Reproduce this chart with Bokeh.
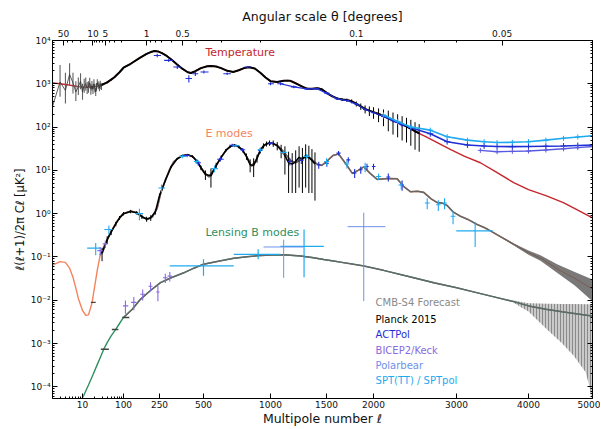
import numpy as np
from bokeh.plotting import figure
from bokeh.models import (Range1d, LinearAxis, LogAxis, FixedTicker,
                          CustomJSTickFormatter, Label)
from bokeh.embed import file_html
from bokeh.resources import INLINE

# ---------------- theory spectra (D_ell, muK^2) ----------------
tt_ell = [2, 3, 4, 5, 6, 8, 10, 13, 16, 20, 25, 30, 40, 50, 60, 80, 100, 120, 150, 180, 200, 220,
          240, 260, 280, 300, 330, 360, 390, 410, 440, 480, 520, 540, 570, 600, 640, 680, 720, 760,
          800, 820, 850, 900, 950, 1000, 1050, 1100, 1130, 1170, 1220, 1280, 1340, 1380, 1420, 1470,
          1530, 1600, 1660, 1720, 1780, 1850, 1920, 2000, 2080, 2150, 2230, 2316, 2450, 2600, 2750,
          2917, 3100, 3300, 3500, 3770, 4000, 4250, 4517, 4750, 5000]
tt_D = [1050, 1000, 960, 930, 900, 860, 840, 830, 840, 860, 900, 950, 1080, 1250, 1420, 1850, 2350,
        2900, 3900, 4900, 5400, 5700, 5600, 5100, 4400, 3700, 2800, 2200, 1850, 1780, 1950, 2300,
        2550, 2580, 2500, 2300, 1990, 1880, 2050, 2300, 2420, 2400, 2250, 1800, 1400, 1150, 1100,
        1180, 1200, 1150, 980, 800, 760, 780, 790, 700, 560, 460, 430, 420, 370, 300, 250, 221, 190,
        160, 132, 111, 80, 58, 42, 30, 21, 15, 9.5, 5.2, 3.6, 2.6, 1.8, 1.2, 0.8]

ee_ell = [2, 3, 4, 5, 6, 7, 8, 10, 12, 14, 17, 20, 23, 27, 33, 40, 50, 60, 70, 85, 100, 120, 140,
          160, 183, 210, 236, 255, 274, 295, 313, 350, 386, 420, 453, 490, 528, 560, 596, 635, 673,
          710, 746, 785, 821, 860, 901, 950, 1000, 1050, 1101, 1156, 1200, 1250, 1300, 1336, 1400,
          1450, 1500, 1560, 1615, 1690, 1757, 1820, 1884, 1960, 2036, 2150, 2245, 2320, 2398, 2480,
          2556, 2650, 2732, 2800, 2866, 2950, 3048, 3150, 3259, 3350, 3436, 3600, 3773, 4000, 4170,
          4419, 4700, 5000]
ee_D = [0.065, 0.078, 0.075, 0.055, 0.034, 0.019, 0.011, 0.0058, 0.0045, 0.0046, 0.0085, 0.022,
        0.05, 0.11, 0.17, 0.25, 0.38, 0.52, 0.67, 0.85, 1.0, 1.15, 1.05, 0.85, 0.73, 0.85, 1.35, 3.0,
        6.0, 11, 16, 21, 23, 21, 16, 10.5, 7.0, 11, 19, 30, 38, 37, 30, 20, 12.5, 17, 30, 40, 43, 38,
        27, 17, 15, 18, 21, 19, 14, 13, 16, 22, 24, 14, 8.5, 10, 12, 8.5, 6.2, 6.5, 6.4, 4.2, 3.2,
        3.3, 3.1, 2.2, 1.8, 1.75, 1.55, 1.1, 0.87, 0.72, 0.56, 0.48, 0.40, 0.28, 0.195, 0.125,
        0.095, 0.053, 0.032, 0.018]

bb_ell = [2, 4, 6, 8, 10.7, 14, 18, 23, 28, 33, 40, 50, 64, 80, 100, 125, 154, 200, 254, 300, 366,
          430, 500, 600, 684, 800, 900, 1010, 1100, 1243, 1350, 1471, 1600, 1750, 1884, 2100, 2434,
          2700, 3000, 3250, 3528, 3770, 4000, 4250, 4500, 4750, 5000]
bb_D = [2.5e-6, 1e-5, 2.2e-5, 3.8e-5, 6.3e-5, 1.1e-4, 1.9e-4, 3.3e-4, 5.1e-4, 7.4e-4, 0.00105,
        0.0015, 0.0021, 0.0029, 0.004, 0.0062, 0.0105, 0.017, 0.0255, 0.033, 0.043, 0.055, 0.068,
        0.082, 0.093, 0.102, 0.108, 0.111, 0.112, 0.105, 0.097, 0.087, 0.078, 0.069, 0.062, 0.049,
        0.033, 0.025, 0.0195, 0.015, 0.0115, 0.0093, 0.0074, 0.0062, 0.0054, 0.0048, 0.0043]

# ---------------- CMB-S4 forecast ----------------
s4_ee_band_ell = [3436, 3600, 3773, 4000, 4170, 4419, 4700, 5000]
s4_ee_band_lo = [0.39, 0.27, 0.185, 0.112, 0.082, 0.043, 0.022, 0.0095]
s4_ee_band_hi = [0.41, 0.29, 0.205, 0.14, 0.11, 0.068, 0.045, 0.030]
s4_bb_band_ell = [3770, 4000, 4268, 4500, 4684, 4880, 4950, 5000]
s4_bb_band_lo = [0.0088, 0.0055, 0.0021, 0.001, 0.00052, 0.00022, 0.0001, 0.00004]
s4_bb_band_hi = [0.0098, 0.0085, 0.0083, 0.0082, 0.0082, 0.0081, 0.0081, 0.0081]
s4_bin_lo = [16, 28, 52, 93]
s4_bin_hi = [21, 44, 75, 116]
s4_bin_D = [0.0089, 0.00074, 0.0021, 0.004]

# ---------------- Planck 2015 ----------------
planck_lowl_ell = list(range(2, 30))
planck_lowl_D = [300, 1100, 700, 1650, 1050, 650, 850, 1150, 650, 900, 1000, 800, 850, 1050, 750,
                 900, 750, 1000, 800, 650, 850, 1050, 950, 900, 800, 1000, 900, 850]
planck_lowl_lo = [80, 500, 350, 900, 600, 400, 550, 750, 430, 620, 700, 580, 620, 790, 560, 690,
                  580, 780, 630, 520, 690, 860, 780, 750, 670, 840, 760, 720]
planck_lowl_hi = [1800, 2700, 1800, 3000, 1800, 1150, 1400, 1750, 1000, 1300, 1400, 1100, 1150,
                  1380, 990, 1160, 960, 1270, 1000, 800, 1040, 1270, 1140, 1070, 950, 1180, 1060, 1000]

planck_tt_ell = [30, 40, 50, 60, 80, 100, 120, 150, 180, 200, 220, 240, 260, 280, 300, 330, 360, 390,
                 410, 440, 480, 520, 540, 570, 600, 640, 680, 720, 760, 800, 850, 900, 950, 1000,
                 1050, 1100, 1150, 1200, 1250, 1300, 1350, 1400, 1450, 1500, 1550, 1600, 1650, 1700,
                 1750, 1800, 1850, 1900, 1950, 2000, 2050, 2100, 2150, 2200, 2250, 2300, 2350, 2400,
                 2450, 2500]
planck_tt_D = [950, 1080, 1250, 1420, 1850, 2350, 2900, 3900, 4900, 5400, 5700, 5600, 5100, 4400,
               3700, 2800, 2200, 1850, 1780, 1950, 2300, 2550, 2580, 2500, 2300, 1990, 1880, 2050,
               2300, 2420, 2250, 1800, 1400, 1150, 1100, 1180, 1180, 1020, 880, 770, 765, 790, 750,
               620, 520, 460, 435, 420, 395, 345, 300, 262, 240, 221, 200, 180, 160, 142, 128, 114,
               104, 92, 80, 72]
planck_tt_err = [60, 60, 60, 60, 60, 60, 60, 60, 60, 60, 60, 60, 55, 50, 45, 40, 35, 30, 30, 30, 30,
                 30, 30, 30, 30, 30, 28, 28, 28, 28, 26, 24, 22, 20, 20, 20, 20, 20, 20, 20, 22, 24,
                 26, 28, 30, 32, 35, 38, 42, 46, 50, 55, 60, 66, 70, 75, 80, 75, 70, 65, 60, 55, 50, 45]

planck_ee_ell = [30, 40, 50, 65, 80, 100, 120, 140, 160, 180, 200, 225, 250, 275, 300, 330, 360, 390,
                 420, 450, 480, 510, 540, 570, 600, 630, 660, 690, 720, 750, 780, 810, 840, 870, 900,
                 930, 960, 990, 1020, 1050, 1080, 1110, 1140, 1170, 1200, 1230, 1260, 1290, 1320,
                 1350, 1380]
planck_ee_D = [0.12, 0.25, 0.38, 0.58, 0.8, 1.0, 1.12, 1.05, 0.85, 0.75, 0.8, 1.1, 2.6, 6.0, 12, 18.5,
               22, 23, 21, 16.5, 11.5, 8.0, 7.5, 13, 20, 29, 36, 38, 35, 29, 21, 13.5, 13, 19, 29, 37,
               41, 43, 42, 37, 29, 22, 15, 14, 16, 20, 18, 22, 20, 17, 14]
planck_ee_err = [0.04, 0.05, 0.06, 0.07, 0.08, 0.09, 0.1, 0.1, 0.1, 0.1, 0.12, 0.15, 0.3, 0.5, 0.7,
                 0.9, 1.0, 1.1, 1.2, 1.3, 1.4, 2.0, 3.5, 2.0, 2.0, 2.2, 2.5, 2.6, 2.8, 3.0, 3.5, 4.5,
                 6.0, 4.0, 4.5, 5.0, 5.5, 6.0, 7.0, 8.0, 10, 14, 12, 11, 13, 16, 15, 18, 17, 14, 12]

# ---------------- ACTPol ----------------
act_tt_ell = [236, 289, 331, 397, 440, 502, 639, 788, 1000, 1075, 1184, 1300, 1400, 1500, 1600, 1700,
              1800, 1900, 2000, 2100, 2200, 2300]
act_tt_D = [4520, 3470, 2440, 1320, 1710, 1870, 1710, 2440, 1000, 1000, 850, 760, 770, 610, 450, 410,
            340, 255, 215, 175, 140, 112]
act_tt_dl = [20, 20, 20, 20, 20, 25, 25, 25, 25, 25, 25, 25, 25, 25, 25, 25, 25, 25, 25, 25, 25, 25]
act_tt_dD = [400, 300, 250, 250, 200, 150, 120, 120, 80, 80, 60, 40, 40, 35, 30, 25, 20, 18, 15, 14,
             12, 10]
act_hi_ell = [2100, 2250, 2400, 2640, 2866, 3134, 3350, 3528, 3750, 4000, 4250, 4520, 4750, 5000]
act_hi_D = [185, 132, 97, 70, 46, 38.6, 36.5, 35.5, 35.3, 35.5, 36, 36.5, 37.5, 38.6]
act_hi2_ell = [3300, 3528, 3750, 4000, 4250, 4520, 4750, 5000]
act_hi2_D = [29, 27, 27.5, 28, 29.5, 31.5, 33.5, 35.5]
act_ee_ell = [386, 460, 596, 673, 750, 900, 1000, 1150, 1250, 1418, 1503, 1615, 1714, 1782, 1850,
              1922, 2000, 2150, 2300]
act_ee_D = [22, 15, 18, 38, 30, 29, 42, 16, 17, 13.4, 14.6, 25, 17.5, 8.7, 10.3, 12.3, 12.3, 7.0, 4.6]
act_ee_dl = [20] * 19
act_ee_dD = [2, 2, 2, 3, 3, 3, 3, 3, 3, 2.5, 2.5, 3, 2.5, 2, 2, 2, 2, 1.5, 1.2]

# ---------------- BICEP2/Keck ----------------
bk_bb_ell = [105, 130, 163, 199, 240, 274, 294]
bk_bb_D = [0.0074, 0.0089, 0.0138, 0.021, 0.0155, 0.033, 0.036]
bk_bb_dl = [8, 9, 10, 10, 10, 10, 10]
bk_bb_dD = [0.0025, 0.003, 0.004, 0.005, 0.006, 0.008, 0.009]
bk_ee_ell = [27, 36]
bk_ee_D = [0.14, 0.2]
bk_ee_dl = [4, 5]
bk_ee_dD = [0.03, 0.04]

# ---------------- Polarbear ----------------
pb_bb_ell = [1100, 1884]
pb_bb_lo = [930, 1707]
pb_bb_hi = [1270, 2120]
pb_bb_D = [0.17, 0.5]
pb_bb_Dlo = [0.033, 0.0095]
pb_bb_Dhi = [0.25, 1.05]

# ---------------- SPT(TT) / SPTpol ----------------
spt_hi_ell = [2100, 2250, 2400, 2640, 2866, 3134, 3350, 3528, 3750, 4000, 4250, 4520, 4750, 5000]
spt_hi_D = [190, 135, 100, 85, 60, 50, 46, 44, 44.5, 46, 50, 55, 59, 63]
spt_ee_ell = [21, 44, 150, 258, 360, 450, 560, 700, 900, 1100, 1300, 1500, 1700, 1900, 2050, 2290,
              2600, 2745, 2830, 2950, 3232]
spt_ee_D = [0.16, 0.43, 1.0, 3.9, 21, 16, 11, 37, 30, 26, 21, 16, 14, 12, 7.2, 4.6, 1.76, 1.6, 1.76,
            0.87, 0.4]
spt_ee_dl = [8, 10, 15, 15, 20, 20, 20, 25, 25, 25, 25, 25, 25, 25, 25, 30, 30, 30, 30, 35, 235]
spt_ee_dD = [0.05, 0.1, 0.3, 0.8, 2, 2, 2, 3, 3, 3, 3, 3, 3, 3, 1.2, 1.0, 0.5, 0.45, 0.5, 0.3, 0.23]
spt_bb_ell = [500, 880, 1275]
spt_bb_lo = [294, 684, 1075]
spt_bb_hi = [684, 1075, 1471]
spt_bb_D = [0.062, 0.115, 0.175]
spt_bb_Dlo = [0.037, 0.088, 0.034]
spt_bb_Dhi = [0.088, 0.15, 0.43]

# ---------------- axes ----------------
bottom_ticks = [10, 100, 250, 500, 1000, 1500, 2000, 3000, 4000, 5000]
bottom_minor = [3, 4, 5, 6, 7, 8, 9, 20, 30, 40, 50, 60, 70, 80, 90]
top_ticks = [50, 10, 5, 1, 0.5, 0.1, 0.05]
top_labels = ["50", "10", "5", "1", "0.5", "0.1", "0.05"]
top_minor = [40, 30, 20, 9, 8, 7, 6, 4, 3, 2, 0.9, 0.8, 0.7, 0.6, 0.4, 0.3, 0.2,
             0.09, 0.08, 0.07, 0.06]

# the original's multipole axis: logarithmic at low ell, stretched at high ell
scale_ell = [2, 10, 100, 250, 500, 1000, 1500, 2000, 3000, 4000, 5000]
scale_pos = [0, 30, 71, 107, 151, 218, 274, 321, 404, 476, 540]


def X(ell):
    return np.interp(np.log10(np.asarray(ell, dtype=float)), np.log10(scale_ell), scale_pos)


def A(v):
    return np.asarray(v, dtype=float)


FONT = "DejaVu Sans"
RED = "#c4262b"
CORAL = "#f3845e"
GREEN = "#2f8f62"
S4 = "#666666"
ACT = "#1f2fd6"
BK = "#8a6ae0"
PB = "#6d92ea"
SPT = "#1eaaf0"

p = figure(width=600, height=428, x_range=Range1d(0, 540), y_range=Range1d(10 ** -4.27, 1e4),
           y_axis_type="log", output_backend="svg", toolbar_location=None,
           min_border_left=52, min_border_right=8, min_border_top=40, min_border_bottom=28)
p.grid.visible = False
p.outline_line_color = "black"
p.background_fill_color = "white"

# bottom axis
xa = p.xaxis[0]
bt = [float(v) for v in X(bottom_ticks)]
xa.ticker = FixedTicker(ticks=bt, minor_ticks=[float(v) for v in X(bottom_minor)])
xa.major_label_overrides = {t: str(l) for t, l in zip(bt, bottom_ticks)}
xa.axis_label = "Multipole number ℓ"

# top axis (angular scale)
tt_top = [float(v) for v in X([180.0 / t for t in top_ticks])]
top = LinearAxis(ticker=FixedTicker(ticks=tt_top,
                                    minor_ticks=[float(v) for v in X([180.0 / t for t in top_minor])]),
                 axis_label="Angular scale θ [degrees]")
top.major_label_overrides = {t: l for t, l in zip(tt_top, top_labels)}
p.add_layout(top, "above")

ya = p.yaxis[0]
yticker = FixedTicker(ticks=[10.0 ** k for k in range(-4, 5)],
                      minor_ticks=[m * 10.0 ** k for k in range(-5, 4) for m in range(2, 10)])
ya.ticker = yticker
ya.formatter = CustomJSTickFormatter(code="""
const sup = {"-":"\u207b","0":"\u2070","1":"\u00b9","2":"\u00b2","3":"\u00b3","4":"\u2074",
             "5":"\u2075","6":"\u2076","7":"\u2077","8":"\u2078","9":"\u2079"};
const e = Math.round(Math.log10(tick));
return "10" + String(e).split("").map(c => sup[c]).join("");
""")
ya.axis_label = "ℓ(ℓ+1)/2π Cℓ [μK²]"

right = LogAxis(ticker=yticker, formatter=CustomJSTickFormatter(code="return ''"))
p.add_layout(right, "right")

for ax in [xa, top, ya, right]:
    ax.major_tick_in = 5
    ax.major_tick_out = 0
    ax.minor_tick_in = 2
    ax.minor_tick_out = 0
    ax.axis_line_color = "black"
    ax.major_tick_line_color = "black"
    ax.minor_tick_line_color = "black"
    ax.major_label_text_font = FONT
    ax.major_label_text_font_size = "9px"
    ax.major_label_text_color = "#111111"
    ax.major_label_standoff = 2
    ax.axis_label_text_font = FONT
    ax.axis_label_text_font_style = "normal"
    ax.axis_label_text_color = "#111111"
    ax.axis_label_standoff = 1
xa.axis_label_text_font_size = "12.5px"
xa.axis_label_standoff = 0
top.axis_label_text_font_size = "12.5px"
top.major_label_standoff = 4
top.axis_label_standoff = 3
ya.axis_label_text_font_size = "11.5px"
right.major_label_standoff = 0

# ---- forecast bands ----
p.varea(x=X(s4_ee_band_ell), y1=A(s4_ee_band_lo), y2=A(s4_ee_band_hi), fill_color="#727272",
        fill_alpha=0.95)
p.varea(x=X(s4_bb_band_ell), y1=A(s4_bb_band_lo), y2=A(s4_bb_band_hi), fill_color="#c4c4c4",
        fill_alpha=0.9, hatch_pattern="|", hatch_color="#7a7a7a", hatch_scale=3, hatch_weight=0.8)

# ---- theory curves ----
p.line(X(tt_ell), A(tt_D), line_color=RED, line_width=1.4)
p.line(X(ee_ell), A(ee_D), line_color=CORAL, line_width=1.4)
p.line(X(bb_ell), A(bb_D), line_color=GREEN, line_width=1.4)

# ---- CMB-S4 forecast lines ----
ee_m = A(ee_ell) >= 27
p.line(X(A(ee_ell)[ee_m]), A(ee_D)[ee_m], line_color=S4, line_width=1.6)
bb_m = A(bb_ell) >= 100
p.line(X(A(bb_ell)[bb_m]), A(bb_D)[bb_m], line_color=S4, line_width=1.5)
p.segment(x0=X(s4_bin_lo), y0=A(s4_bin_D), x1=X(s4_bin_hi), y1=A(s4_bin_D), line_color="#444444",
          line_width=1.4)

# ---- Planck 2015 ----
p.segment(x0=X(planck_lowl_ell), y0=A(planck_lowl_lo), x1=X(planck_lowl_ell), y1=A(planck_lowl_hi),
          line_color="#606060", line_width=1.1)
p.line(X(planck_lowl_ell), A(planck_lowl_D), line_color="#333333", line_width=0.8)
ptx = X(planck_tt_ell)
p.segment(x0=ptx, y0=A(planck_tt_D) - A(planck_tt_err), x1=ptx, y1=A(planck_tt_D) + A(planck_tt_err),
          line_color="black", line_width=1.0)
p.line(ptx, A(planck_tt_D), line_color="black", line_width=2.0)
pex = X(planck_ee_ell)
p.segment(x0=pex, y0=A(planck_ee_D) - A(planck_ee_err), x1=pex, y1=A(planck_ee_D) + A(planck_ee_err),
          line_color="black", line_width=1.0)
p.line(pex, A(planck_ee_D), line_color="black", line_width=1.6)


def crosses(ell, D, ell_lo, ell_hi, D_lo, D_hi, color, width=1.1):
    p.segment(x0=X(ell_lo), y0=A(D), x1=X(ell_hi), y1=A(D), line_color=color, line_width=width)
    p.segment(x0=X(ell), y0=A(D_lo), x1=X(ell), y1=A(D_hi), line_color=color, line_width=width)


# ---- ACTPol ----
crosses(act_tt_ell, act_tt_D, A(act_tt_ell) - A(act_tt_dl), A(act_tt_ell) + A(act_tt_dl),
        A(act_tt_D) - A(act_tt_dD), A(act_tt_D) + A(act_tt_dD), ACT)
p.line(X(act_tt_ell)[9:], A(act_tt_D)[9:], line_color=ACT, line_width=1.2)
crosses(act_ee_ell, act_ee_D, A(act_ee_ell) - A(act_ee_dl), A(act_ee_ell) + A(act_ee_dl),
        A(act_ee_D) - A(act_ee_dD), A(act_ee_D) + A(act_ee_dD), ACT)
p.line(X(act_hi_ell), A(act_hi_D), line_color=ACT, line_width=1.6)
p.scatter(X(act_hi_ell), A(act_hi_D), marker="cross", size=6, line_color=ACT, line_width=1)
p.line(X(act_hi2_ell), A(act_hi2_D), line_color="#5a5ae0", line_width=1.4)
p.scatter(X(act_hi2_ell), A(act_hi2_D), marker="cross", size=5, line_color="#5a5ae0", line_width=1)

# ---- SPT ----
p.line(X(spt_hi_ell), A(spt_hi_D), line_color=SPT, line_width=1.6)
p.scatter(X(spt_hi_ell), A(spt_hi_D), marker="cross", size=5, line_color=SPT, line_width=1)
crosses(spt_ee_ell, spt_ee_D, A(spt_ee_ell) - A(spt_ee_dl), A(spt_ee_ell) + A(spt_ee_dl),
        A(spt_ee_D) - A(spt_ee_dD), A(spt_ee_D) + A(spt_ee_dD), SPT)
crosses(spt_bb_ell, spt_bb_D, spt_bb_lo, spt_bb_hi, spt_bb_Dlo, spt_bb_Dhi, SPT, 1.2)

# ---- BICEP2/Keck ----
crosses(bk_bb_ell, bk_bb_D, A(bk_bb_ell) - A(bk_bb_dl), A(bk_bb_ell) + A(bk_bb_dl),
        A(bk_bb_D) - A(bk_bb_dD), A(bk_bb_D) + A(bk_bb_dD), BK)
crosses(bk_ee_ell, bk_ee_D, A(bk_ee_ell) - A(bk_ee_dl), A(bk_ee_ell) + A(bk_ee_dl),
        A(bk_ee_D) - A(bk_ee_dD), A(bk_ee_D) + A(bk_ee_dD), BK)

# ---- Polarbear ----
crosses(pb_bb_ell, pb_bb_D, pb_bb_lo, pb_bb_hi, pb_bb_Dlo, pb_bb_Dhi, PB, 1.0)

# ---- labels ----
curve_labels = ["Temperature", "E modes", "Lensing B modes"]
curve_label_ell = [510, 510, 510]
curve_label_D = [5300, 72, 0.37]
curve_label_colors = [RED, CORAL, GREEN]
for t, e, d, c in zip(curve_labels, curve_label_ell, curve_label_D, curve_label_colors):
    p.add_layout(Label(x=float(X([e])[0]), y=d, text=t, text_color=c, text_font=FONT,
                       text_font_size="11px", text_baseline="middle", text_align="left"))

legend_texts = ["CMB-S4 Forecast", "Planck 2015", "ACTPol", "BICEP2/Keck", "Polarbear",
                "SPT(TT) / SPTpol"]
legend_colors = ["#8a8a8a", "black", ACT, BK, PB, SPT]
legend_D = [0.009, 0.00366, 0.00158, 0.00068, 0.000304, 0.000138]
legend_ell = 2020
for t, c, d in zip(legend_texts, legend_colors, legend_D):
    p.add_layout(Label(x=float(X([legend_ell])[0]), y=d, text=t, text_color=c, text_font=FONT,
                       text_font_size="10px", text_baseline="middle", text_align="left"))

open("out.html", "w").write(file_html(p, INLINE))
